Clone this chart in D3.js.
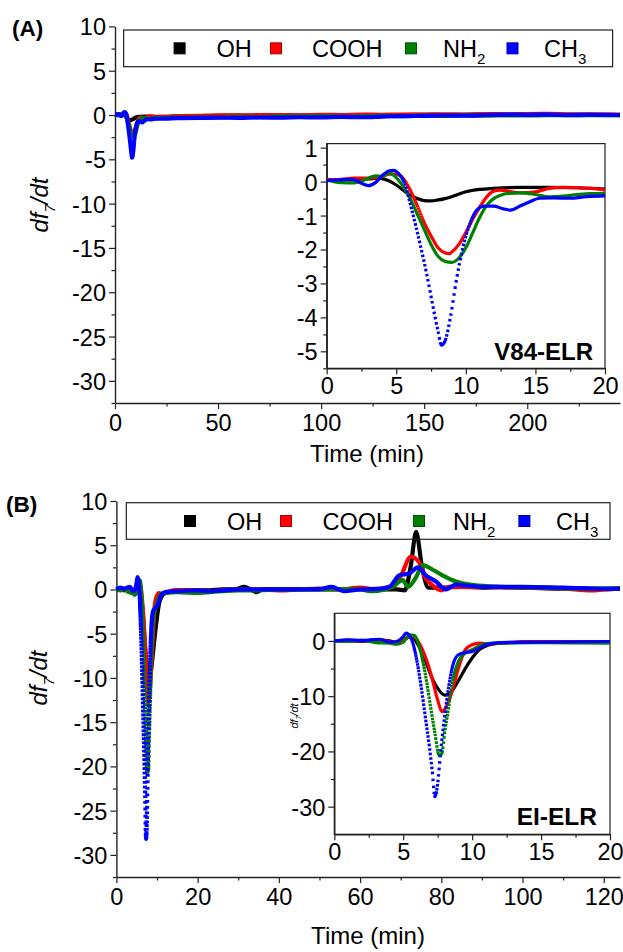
<!doctype html>
<html>
<head>
<meta charset="utf-8">
<script src="https://d3js.org/d3.v7.min.js"></script>
<style>
body { margin: 0; background: #fff; }
text { font-family: "Liberation Sans", Arial, sans-serif; fill: #000; }
</style>
</head>
<body>
<svg width="623" height="952"></svg>
<script>
// ---- data: [time (min), df7/dt] ----
var names = ["OH", "COOH", "NH2", "CH3"]
var colors = ["#000000", "#ff0000", "#008000", "#0000ff"]

// panel A : V84-ELR
var ohA = [[0,0.05],[1,0.05],[2,0.06],[3,0.08],[3.7,0.1],[4.5,0.02],[5,-0.1],[5.5,-0.25],[6,-0.4],[6.5,-0.5],[7,-0.56],[7.5,-0.57],[8,-0.54],[8.5,-0.5],[9,-0.44],[10,-0.3],[11,-0.23],[12,-0.2],[14,-0.17],[16,-0.17],[18,-0.18],[20,-0.22],[25,-0.2],[30,-0.15],[40,-0.12],[50,-0.1],[60,-0.08],[70,-0.1],[80,-0.05],[90,-0.06],[100,-0.03],[110,-0.05],[120,0],[130,-0.02],[140,0],[150,0.03],[160,0],[170,0.02],[180,0.05],[190,0.02],[200,0.05],[210,0.03],[220,0.02],[230,0.04],[245,0]]
var cooA = [[0,0.05],[1,0.07],[2,0.1],[3,0.1],[4,0.15],[4.5,0.22],[5,0.22],[5.5,0.1],[6,-0.25],[6.5,-0.7],[7,-1.2],[7.5,-1.6],[8,-1.95],[8.5,-2.1],[8.8,-2.12],[9,-2.07],[9.5,-1.85],[10,-1.5],[10.5,-1.1],[11,-0.75],[11.5,-0.45],[12,-0.28],[12.5,-0.25],[13,-0.28],[14,-0.33],[15,-0.3],[16,-0.2],[17,-0.17],[18,-0.18],[19,-0.2],[20,-0.25],[25,-0.2],[30,-0.12],[40,-0.1],[50,-0.05],[60,-0.05],[70,0],[80,0],[90,-0.03],[100,0.02],[110,0],[120,0.05],[130,0.03],[140,0.05],[150,0.05],[160,0.08],[170,0.05],[180,0.1],[190,0.08],[200,0.1],[210,0.12],[220,0.08],[230,0.06],[245,0.05]]
var nh2A = [[0,0.05],[1,-0.03],[2,-0.04],[2.5,0.02],[3,0.1],[3.5,0.17],[4,0.15],[4.5,0.25],[5,0.12],[5.5,-0.15],[6,-0.5],[6.5,-0.95],[7,-1.4],[7.5,-1.85],[8,-2.2],[8.5,-2.35],[9,-2.38],[9.5,-2.25],[10,-1.95],[10.5,-1.5],[11,-1.05],[11.5,-0.7],[12,-0.5],[12.5,-0.4],[13,-0.35],[14,-0.33],[15,-0.38],[16,-0.45],[17,-0.43],[18,-0.38],[19,-0.35],[20,-0.35],[25,-0.33],[30,-0.3],[40,-0.25],[50,-0.28],[60,-0.2],[70,-0.25],[80,-0.15],[90,-0.18],[100,-0.12],[110,-0.2],[120,-0.15],[130,-0.1],[140,-0.12],[150,-0.08],[160,-0.1],[170,-0.05],[180,-0.08],[190,-0.03],[200,-0.05],[210,-0.02],[220,-0.04],[230,-0.02],[245,-0.05]]
var ch3A = [[0,0.03],[0.5,0.04],[1,0.05],[1.5,0.07],[2,0.05],[2.5,-0.05],[3,-0.12],[3.5,-0.03],[4,0.18],[4.5,0.32],[4.8,0.33],[5.2,0.22],[5.6,-0.05],[6,-0.65],[6.4,-1.3],[6.8,-2.0],[7.2,-2.75],[7.6,-3.6],[8,-4.4],[8.25,-4.82],[8.5,-4.7],[8.9,-3.98],[9.3,-2.95],[9.8,-1.92],[10.3,-1.23],[10.8,-0.83],[11.3,-0.72],[12,-0.72],[12.6,-0.79],[13.2,-0.84],[13.9,-0.72],[14.6,-0.59],[15.3,-0.49],[16.3,-0.48],[17.5,-0.49],[18.7,-0.44],[20,-0.42],[25,-0.4],[30,-0.35],[40,-0.33],[50,-0.3],[60,-0.32],[70,-0.28],[80,-0.3],[90,-0.25],[100,-0.27],[110,-0.22],[120,-0.25],[130,-0.18],[140,-0.12],[150,-0.1],[160,-0.05],[170,-0.08],[180,0],[190,0.05],[200,0.02],[210,0.05],[220,0],[230,0.03],[245,0]]

// panel B : EI-ELR
var ohB = [[0,0],[1,0.1],[2,-0.1],[3,0.2],[4,0],[4.5,-0.3],[5,0.2],[5.6,0.8],[6,-0.4],[6.5,-2.8],[7,-6.2],[7.5,-8.6],[8,-9.8],[8.3,-9.6],[8.5,-9.2],[9,-7.2],[9.5,-5.0],[10,-3.1],[10.5,-1.6],[11,-0.9],[12,-0.4],[13,-0.3],[15,-0.1],[17,-0.1],[20,-0.1],[23,-0.1],[26,0],[29,0],[31.5,0.3],[33,0],[34.5,-0.3],[36,0],[40,0],[45,0.05],[50,0],[55,0],[60,0.05],[65,0],[69,0],[71,-0.1],[72.5,2.7],[73.8,6.5],[75.2,2.7],[76.8,0.2],[80,0.2],[85,0.3],[90,0.2],[95,0.25],[100,0.2],[105,0.15],[110,0.1],[115,0.1],[120,0.05],[124,0.1]]
var cooB = [[0,0],[1,0.1],[2,0],[3.3,0.2],[4,-0.1],[4.5,-0.5],[5,0.2],[5.6,0.9],[6,0.2],[6.5,-2.2],[7,-5.9],[7.5,-10.7],[7.8,-12.8],[8,-12.4],[8.5,-9.5],[9,-5],[9.5,-1.6],[10,-0.7],[10.5,-0.4],[11,-0.5],[12,-0.4],[14,-0.1],[17,-0.1],[20,-0.1],[23,-0.2],[26,-0.1],[30,0],[35,0],[40,-0.1],[45,0],[50,0.1],[55,0],[60,0.2],[64,0],[68,0.3],[70,1.5],[72.5,3.7],[74.5,3.1],[76,1.4],[78,0.4],[80,-0.1],[82,0.3],[85,0.3],[90,0.3],[100,0.2],[110,0.1],[117,-0.1],[120,0],[124,0.1]]
var nh2B = [[0,0],[1,-0.1],[2,0.1],[3,-0.3],[4,-0.4],[4.5,-0.6],[5,-0.2],[5.5,1.1],[5.8,1.0],[6,0.2],[6.25,-1.8],[6.5,-4.6],[6.75,-8.2],[7,-12.2],[7.3,-16.7],[7.6,-20.7],[7.8,-20.4],[8,-16.7],[8.3,-11.9],[8.6,-7.1],[9,-3.7],[9.5,-2.2],[10,-1.6],[10.5,-0.9],[11,-0.5],[12,-0.4],[15,-0.3],[20,-0.4],[23,-0.3],[26,-0.2],[30,-0.1],[35,-0.1],[40,0],[50,0],[55,0.05],[60,0],[63,-0.2],[66,0],[68,0.3],[70.5,1.05],[71.8,0.3],[73.8,1.4],[75.4,2.75],[78,2.2],[80.3,1.6],[82.8,1.05],[85.2,0.7],[88,0.5],[95,0.3],[105,0.2],[115,0.1],[124,0.1]]
var ch3B = [[0,0],[1,0.2],[2,0.1],[3.3,0.3],[4,-0.2],[4.5,-0.1],[5,0.8],[5.2,1.4],[5.5,0.8],[5.8,-1.3],[6,-3.7],[6.3,-8.3],[6.6,-13.7],[6.9,-19.2],[7.1,-23.4],[7.3,-28.2],[7.5,-25.8],[7.7,-20.4],[8,-13.7],[8.3,-8.3],[8.6,-4.4],[9,-2.5],[9.5,-2.1],[10,-1.9],[10.5,-1.3],[11,-0.7],[12,-0.3],[15,-0.2],[20,-0.1],[23,-0.2],[26,-0.1],[30,0],[35,0],[40,0],[45,0],[50,0.05],[53,0.3],[56,-0.2],[60,0],[65,0.1],[67.2,0.3],[69.7,1.6],[72.1,1.8],[74.2,2.5],[76.2,1.6],[78.7,0.9],[81.1,0],[83.6,0.55],[86,0.45],[90,0.3],[100,0.3],[110,0.2],[120,0.1],[124,0.1]]

var seriesA = [ohA, cooA, nh2A, ch3A]
var seriesB = [ohB, cooB, nh2B, ch3B]

// ---- drawing ----
var svg = d3.select("svg")
var axisColor = "#222"
var plain = function (d) { return String(d) }   // hyphen minus, no decimals

function axes(cfg) {
    var x = d3.scaleLinear().domain(cfg.xd).range([cfg.l, cfg.r])
    var y = d3.scaleLinear().domain(cfg.yd).range([cfg.b, cfg.t])
    var g = svg.append("g")
    if (cfg.box) {
        g.append("rect").attr("x", cfg.l).attr("y", cfg.t)
            .attr("width", cfg.r - cfg.l).attr("height", cfg.b - cfg.t)
            .attr("fill", "#fff").attr("stroke", axisColor).attr("stroke-width", 1.2)
    }
    function style(a) {
        a.select(".domain").attr("stroke", axisColor).attr("stroke-width", 1.4)
        a.selectAll(".tick line").attr("stroke", axisColor).attr("stroke-width", 1.2)
        a.selectAll(".tick text").attr("font-size", cfg.fs + "px")
            .attr("font-family", "Liberation Sans, Arial, sans-serif").attr("fill", "#000")
    }
    var xa = g.append("g").attr("transform", "translate(0," + cfg.b + ")")
        .call(d3.axisBottom(x).tickValues(cfg.xt).tickFormat(plain).tickSize(6).tickSizeOuter(0).tickPadding(cfg.xpad))
    style(xa)
    g.append("g").attr("transform", "translate(0," + cfg.b + ")")
        .call(d3.axisBottom(x).tickValues(cfg.xm).tickSize(3.5).tickFormat(""))
        .call(function (a) { a.select(".domain").remove(); a.selectAll("line").attr("stroke", axisColor).attr("stroke-width", 1.2) })
    var ya = g.append("g").attr("transform", "translate(" + cfg.l + ",0)")
        .call(d3.axisLeft(y).tickValues(cfg.yt).tickFormat(plain).tickSize(6).tickSizeOuter(0).tickPadding(3))
    style(ya)
    ya.selectAll(".tick text").attr("dy", "0.36em")
    g.append("g").attr("transform", "translate(" + cfg.l + ",0)")
        .call(d3.axisLeft(y).tickValues(cfg.ym).tickSize(3.5).tickFormat(""))
        .call(function (a) { a.select(".domain").remove(); a.selectAll("line").attr("stroke", axisColor).attr("stroke-width", 1.2) })
    return { x: x, y: y }
}

// dots spaced evenly in time, like the sampled points of the original traces
function timeDots(path, x, dt, tMax, dash) {
    var node = path.node()
    var total = node.getTotalLength()
    var xs = []
    for (var L = 0; L < total; L += 0.5) xs.push([L, node.getPointAtLength(L).x])
    xs.push([total, node.getPointAtLength(total).x])
    var segs = []
    var j = 0
    for (var k = 0; k * dt <= tMax + 1e-9; k++) {
        var px = x(k * dt)
        while (j < xs.length - 2 && xs[j + 1][1] < px) j++
        var a = xs[j], b = xs[j + 1]
        var Lk = (b[1] === a[1]) ? a[0] : a[0] + (px - a[1]) / (b[1] - a[1]) * (b[0] - a[0])
        segs.push([Math.max(0, Lk - dash / 2), Math.min(total, Lk + dash / 2)])
    }
    var merged = []
    segs.forEach(function (s) {
        var last = merged[merged.length - 1]
        if (last && s[0] <= last[1] + 0.05) last[1] = Math.max(last[1], s[1])
        else merged.push([s[0], s[1]])
    })
    var arr = [], pos = 0
    merged.forEach(function (m, i) {
        if (i === 0) arr.push(0, m[0])
        else arr.push(m[0] - pos)
        arr.push(m[1] - m[0])
        pos = m[1]
    })
    arr.push(total - pos + 20)
    path.attr("stroke-dasharray", arr.map(function (v) { return v.toFixed(2) }).join(","))
}

function traces(sc, series, tMax, width, dt, dash) {
    var line = d3.line()
        .x(function (d) { return sc.x(d[0]) })
        .y(function (d) { return sc.y(d[1]) })
        .curve(d3.curveMonotoneX)
    series.forEach(function (s, i) {
        var data = s.filter(function (d) { return d[0] <= tMax })
        var p = svg.append("path").datum(data)
            .attr("d", line)
            .attr("fill", "none")
            .attr("stroke", colors[i])
            .attr("stroke-width", width)
            .attr("stroke-linejoin", "round")
        timeDots(p, sc.x, dt, tMax, dash)
    })
}

function legend(bx, by, bw, bh, sqx, txx) {
    svg.append("rect").attr("x", bx).attr("y", by).attr("width", bw).attr("height", bh)
        .attr("fill", "none").attr("stroke", axisColor).attr("stroke-width", 1.2)
    var cy = by + bh / 2
    names.forEach(function (n, i) {
        svg.append("rect").attr("x", sqx[i] - 5.5).attr("y", cy - 5.5)
            .attr("width", 11).attr("height", 11)
            .attr("fill", colors[i]).attr("stroke", d3.color(colors[i]).darker(1.2)).attr("stroke-width", 1)
        var t = svg.append("text").attr("x", txx[i]).attr("y", cy + 8.5).attr("font-size", "23.5px")
        if (n.length > 2 && /\d$/.test(n)) {
            t.append("tspan").text(n.slice(0, -1))
            t.append("tspan").attr("font-size", "15px").attr("dy", 7).text(n.slice(-1))
        } else {
            t.text(n)
        }
    })
}

function yTitle(x, y, fs) {
    var t = svg.append("text")
        .attr("transform", "translate(" + x + "," + y + ") rotate(-90)")
        .attr("text-anchor", "middle").attr("font-size", fs + "px").attr("font-style", "italic")
    t.append("tspan").text("df")
    t.append("tspan").attr("font-size", (fs * 0.62) + "px").attr("dy", fs * 0.3).text("7")
    t.append("tspan").attr("dy", -fs * 0.3).text("/dt")
}

// ---------- panel A ----------
var mainA = axes({ l: 115, r: 620, t: 26.4, b: 403, xd: [0, 245], yd: [-32.5, 10],
    xt: [0, 50, 100, 150, 200], xm: [25, 75, 125, 175, 225],
    yt: d3.range(-30, 11, 5), ym: [-32.5, -27.5, -22.5, -17.5, -12.5, -7.5, -2.5, 2.5, 7.5],
    fs: 23.5, xpad: 5 })
traces(mainA, seriesA, 245, 4.2, 0.075, 3.2)
legend(123.6, 30, 489, 36.7, [179.6, 276, 411, 512.5], [216.5, 312, 443, 544])

var insA = axes({ l: 326.7, r: 605, t: 143.6, b: 368.3, xd: [0, 20], yd: [-5.5, 1.12], box: true,
    xt: [0, 5, 10, 15, 20], xm: [2.5, 7.5, 12.5, 17.5],
    yt: [-5, -4, -3, -2, -1, 0, 1], ym: [-5.5, -4.5, -3.5, -2.5, -1.5, -0.5, 0.5],
    fs: 23.5, xpad: 3 })
traces(insA, seriesA, 20, 3.2, 0.075, 2.6)
svg.append("text").attr("x", 593).attr("y", 360).attr("text-anchor", "end")
    .attr("font-size", "24px").attr("font-weight", "bold").text("V84-ELR")

svg.append("text").attr("x", 367).attr("y", 462).attr("text-anchor", "middle")
    .attr("font-size", "24px").text("Time (min)")
yTitle(48, 205, 24)
svg.append("text").attr("x", 12).attr("y", 36).attr("font-size", "22.5px").attr("font-weight", "bold").text("(A)")

// ---------- panel B ----------
var mainB = axes({ l: 116.4, r: 620, t: 501, b: 877, xd: [0, 124], yd: [-32.5, 10],
    xt: [0, 20, 40, 60, 80, 100, 120], xm: [10, 30, 50, 70, 90, 110],
    yt: d3.range(-30, 11, 5), ym: [-32.5, -27.5, -22.5, -17.5, -12.5, -7.5, -2.5, 2.5, 7.5],
    fs: 23.5, xpad: 5 })
traces(mainB, seriesB, 124, 4.2, 0.025, 2.8)
legend(126.3, 502.7, 483.7, 36.6, [190, 286, 419, 524.4], [227, 322.6, 453, 556])

var insB = axes({ l: 334.3, r: 610, t: 613.3, b: 834.3, xd: [0, 20], yd: [-35, 5], box: true,
    xt: [0, 5, 10, 15, 20], xm: [2.5, 7.5, 12.5, 17.5],
    yt: [-30, -20, -10, 0], ym: [-25, -15, -5],
    fs: 23.5, xpad: 3 })
traces(insB, seriesB, 20, 3.2, 0.04, 2.6)
svg.append("text").attr("x", 597).attr("y", 825).attr("text-anchor", "end")
    .attr("font-size", "24.5px").attr("font-weight", "bold").text("EI-ELR")
yTitle(298, 716, 11)

svg.append("text").attr("x", 368).attr("y", 944).attr("text-anchor", "middle")
    .attr("font-size", "24px").text("Time (min)")
yTitle(47, 678, 24)
svg.append("text").attr("x", 6).attr("y", 512).attr("font-size", "22.5px").attr("font-weight", "bold").text("(B)")
</script>
</body>
</html>
